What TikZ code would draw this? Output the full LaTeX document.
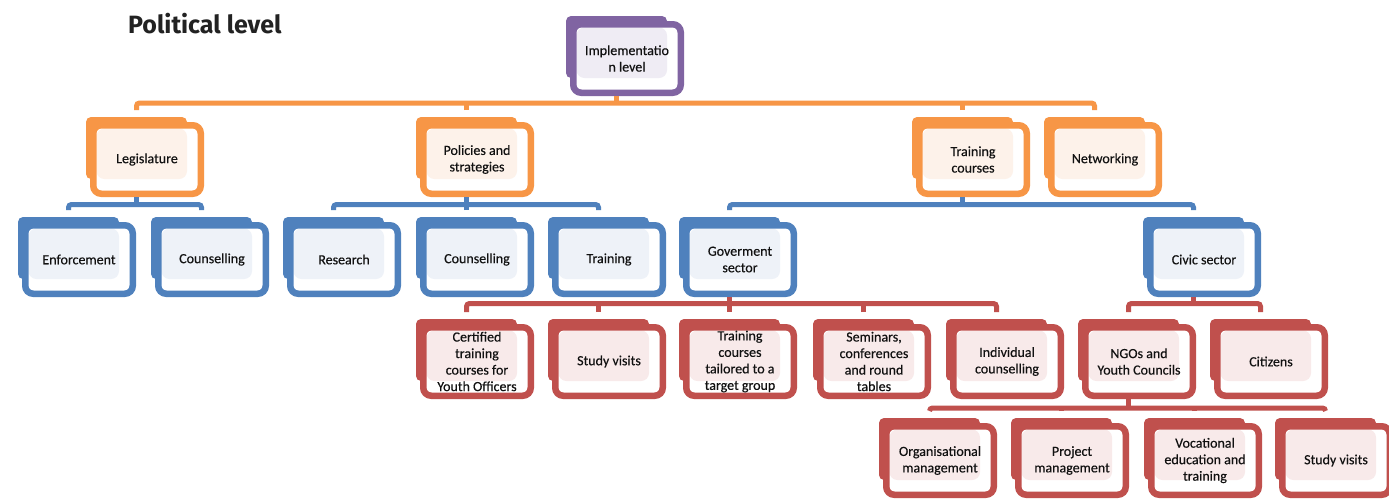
\documentclass[tikz,border=0pt]{standalone}
\usepackage{fontspec}
\newfontfamily\boxfont[FakeBold=0.35]{Carlito}
\newfontfamily\titlefont{Fira Sans}
\definecolor{ora}{HTML}{F79646}
\definecolor{oratint}{HTML}{FDF2EA}
\definecolor{blu}{HTML}{4F81BD}
\definecolor{blutint}{HTML}{EEF2F8}
\definecolor{red}{HTML}{C0504D}
\definecolor{redtint}{HTML}{F8EAEA}
\definecolor{pur}{HTML}{8064A2}
\definecolor{purtint}{HTML}{EFECF4}
\definecolor{txt}{HTML}{111111}
\definecolor{titlecol}{HTML}{222222}
\tikzset{
  backbox/.style={rectangle, rounded corners=5pt, minimum width=101pt, minimum height=62pt, inner sep=0pt, outer sep=0pt},
  frontbox/.style={rectangle, rounded corners=8pt, line width=6.5pt, fill=white,
    minimum width=107.5pt, minimum height=68.5pt, inner sep=1pt, align=center,
    font={\boxfont\fontsize{14}{16.5}\selectfont}, text=txt},
  conn/.style={line width=5pt, rounded corners=3pt},
}
% name, x0, y0, colour, tint, text
\newcommand\orgbox[6]{%
  \node[backbox, fill=#4] (#1) at (#2+50.5, #3+31) {};
  \node[frontbox, draw=#4, path picture={\fill[#5] ([shift={(-50.5pt,31pt)}]path picture bounding box.center) rectangle ([shift={(40pt,-19.5pt)}]path picture bounding box.center);}] (#1-f) at (#2+61, #3+42.5) {#6};
}
\begin{document}
\begin{tikzpicture}[x=1pt,y=-1pt]
\fill[white] (0,0) rectangle (1389,499);
\useasboundingbox (0,0) rectangle (1389,499);

\node[anchor=base west, inner sep=0pt, text=titlecol, font={\titlefont\bfseries\fontsize{25}{30}\selectfont}] (title) at (128,33) {Political level};

% level 0
\orgbox{imp}{566}{16}{pur}{purtint}{Implementatio\\n level}
% level 1
\orgbox{leg}{86}{117}{ora}{oratint}{Legislature}
\orgbox{pol}{416}{117}{ora}{oratint}{Policies and\\strategies}
\orgbox{trc}{912}{117}{ora}{oratint}{Training\\courses}
\orgbox{net}{1044}{117}{ora}{oratint}{Networking}
% level 2
\orgbox{enf}{18}{217}{blu}{blutint}{Enforcement}
\orgbox{couA}{151}{217}{blu}{blutint}{Counselling}
\orgbox{res}{283}{217}{blu}{blutint}{Research}
\orgbox{couB}{416}{217}{blu}{blutint}{Counselling}
\orgbox{tra}{548}{217}{blu}{blutint}{Training}
\orgbox{gov}{679}{217}{blu}{blutint}{Goverment\\sector}
\orgbox{civ}{1143}{217}{blu}{blutint}{Civic sector}
% level 3
\orgbox{cer}{416}{319}{red}{redtint}{Certified\\training\\courses for\\Youth Officers}
\orgbox{stuA}{548}{319}{red}{redtint}{Study visits}
\orgbox{tai}{679}{319}{red}{redtint}{Training\\courses\\tailored to a\\target group}
\orgbox{sem}{813}{319}{red}{redtint}{Seminars,\\conferences\\and round\\tables}
\orgbox{ind}{946}{319}{red}{redtint}{Individual\\counselling}
\orgbox{ngo}{1078}{319}{red}{redtint}{NGOs and\\Youth Councils}
\orgbox{cit}{1210}{319}{red}{redtint}{Citizens}
% level 4
\orgbox{org}{879}{418}{red}{redtint}{Organisational\\management}
\orgbox{prj}{1011}{418}{red}{redtint}{Project\\management}
\orgbox{voc}{1144}{418}{red}{redtint}{Vocational\\education and\\training}
\orgbox{stuB}{1275}{418}{red}{redtint}{Study visits}

% bus levels
\coordinate (b1) at (0,103);
\coordinate (b2) at (0,204.5);
\coordinate (b3) at (0,303.5);
\coordinate (b4) at (0,408);

% connectors level 0 -> 1
\draw[conn, ora] ([yshift=7pt]leg.north) |- (imp |- b1) -| ([yshift=7pt]net.north);
\draw[conn, ora] (imp.center |- imp-f.south) -- (imp |- b1);
\draw[conn, ora] ([yshift=7pt]pol.north) -- (pol |- b1);
\draw[conn, ora] ([yshift=7pt]trc.north) -- (trc |- b1);

% level 1 -> 2
\draw[conn, blu] ([yshift=7pt]enf.north) |- (leg |- b2) -| ([yshift=7pt]couA.north);
\draw[conn, blu] (leg.center |- leg-f.south) -- (leg |- b2);
\draw[conn, blu] ([yshift=7pt]res.north) |- (pol |- b2) -| ([yshift=7pt]tra.north);
\draw[conn, blu] (pol.center |- pol-f.south) -- (pol |- b2);
\draw[conn, blu] ([yshift=7pt]couB.north) -- (couB |- b2);
\draw[conn, blu] ([yshift=7pt]gov.north) |- (trc |- b2) -| ([yshift=7pt]civ.north);
\draw[conn, blu] (trc.center |- trc-f.south) -- (trc |- b2);

% level 2 -> 3
\draw[conn, red] ([yshift=7pt]cer.north) |- (gov |- b3) -| ([yshift=7pt]ind.north);
\draw[conn, red] (gov.center |- gov-f.south) -- ([yshift=7pt]tai.north);
\draw[conn, red] ([yshift=7pt]stuA.north) -- (stuA |- b3);
\draw[conn, red] ([yshift=7pt]sem.north) -- (sem |- b3);
\draw[conn, red] ([yshift=7pt]ngo.north) |- (civ |- b3) -| ([yshift=7pt]cit.north);
\draw[conn, red] (civ.center |- civ-f.south) -- (civ |- b3);

% level 3 -> 4
\draw[conn, red] ([yshift=7pt]org.north) |- (ngo |- b4) -| ([yshift=7pt]stuB.north);
\draw[conn, red] (ngo.center |- ngo-f.south) -- (ngo |- b4);
\draw[conn, red] ([yshift=7pt]prj.north) -- (prj |- b4);
\draw[conn, red] ([yshift=7pt]voc.north) -- (voc |- b4);
\end{tikzpicture}
\end{document}
